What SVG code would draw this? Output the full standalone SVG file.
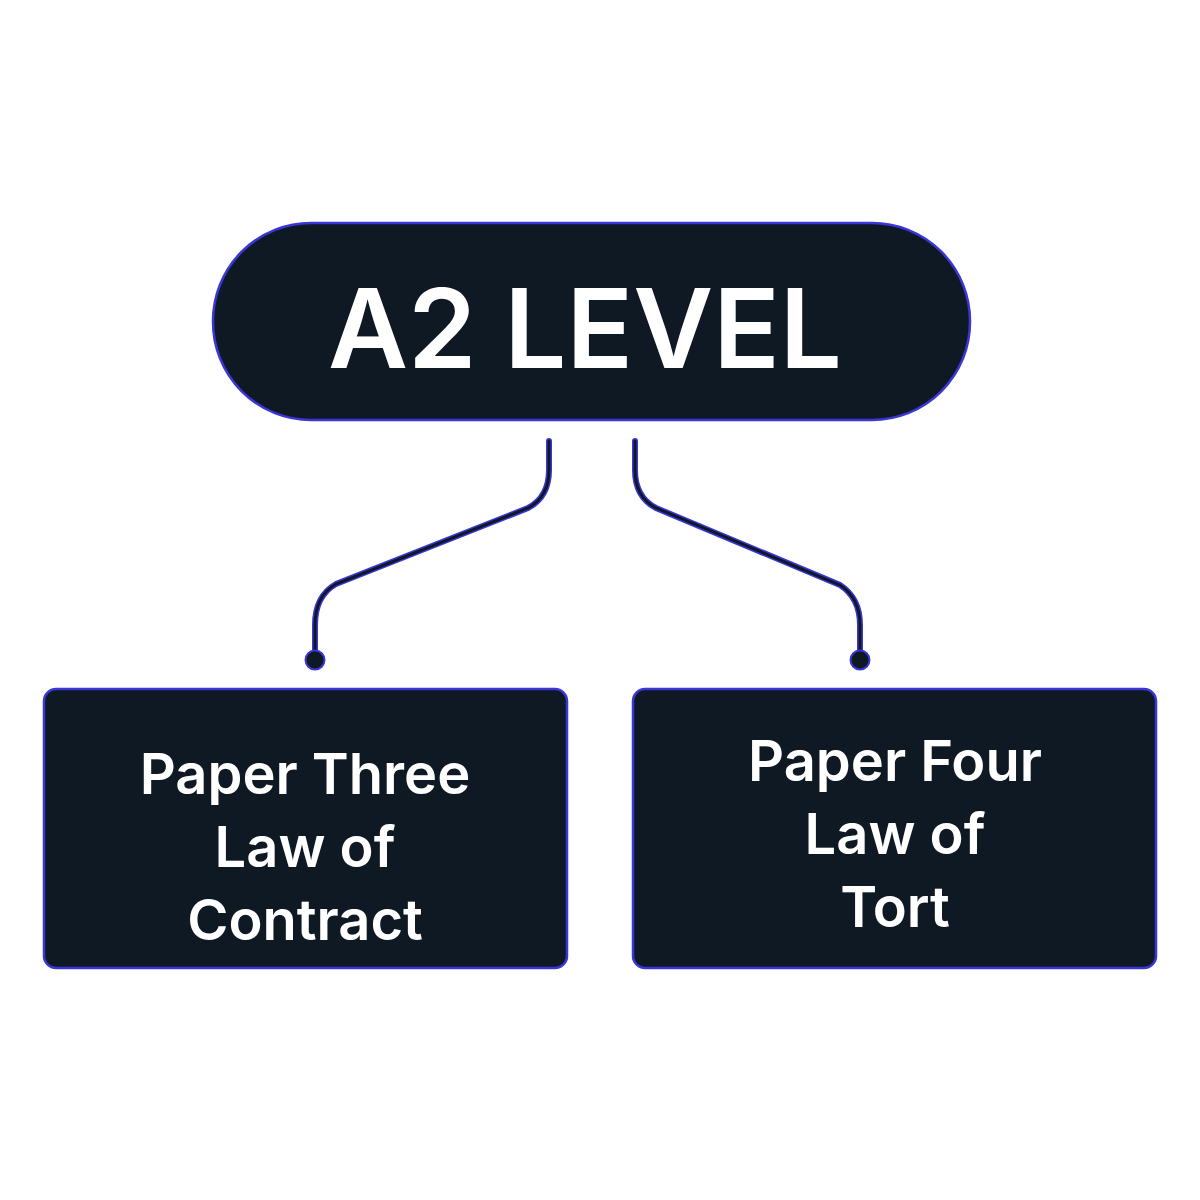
<svg xmlns="http://www.w3.org/2000/svg" width="1200" height="1200" viewBox="0 0 1200 1200">
<style>
.node{fill:#0f1923;stroke:#3a36d8;stroke-width:2.5}
.t{fill:#ffffff;font-family:Inter,"Open Sans",sans-serif;font-weight:600;text-anchor:middle}
.o{fill:none;stroke:#3a36d8;stroke-width:6;stroke-linecap:round}
.i{fill:none;stroke:#0f1923;stroke-width:3;stroke-linecap:round}
.dot{fill:#0f1923;stroke:#3a36d8;stroke-width:2}
</style>
<rect width="1200" height="1200" fill="#ffffff"/>
<g id="connectors">
<path class="o" d="M549,441 V470 Q549,497 528,508 L336,584 Q315,596 315,625 V658"/>
<path class="i" d="M549,441 V470 Q549,497 528,508 L336,584 Q315,596 315,625 V658"/>
<circle class="dot" cx="315" cy="660" r="9.5"/>
<path class="o" d="M635,441 V470 Q635,497 656,508 L840,585 Q860,598 860,625 V658"/>
<path class="i" d="M635,441 V470 Q635,497 656,508 L840,585 Q860,598 860,625 V658"/>
<circle class="dot" cx="860" cy="660" r="9.5"/>
</g>
<g id="a2">
<rect class="node" x="213" y="223" width="757" height="197" rx="98"/>
<text class="t" x="585" y="368" font-size="110">A2 LEVEL</text>
</g>
<g id="paper3">
<rect class="node" x="44" y="689" width="523" height="279" rx="12"/>
<text class="t" font-size="56"><tspan x="305" y="794">Paper Three</tspan><tspan x="305" y="867">Law of</tspan><tspan x="305" y="940">Contract</tspan></text>
</g>
<g id="paper4">
<rect class="node" x="633" y="689" width="523" height="279" rx="12"/>
<text class="t" font-size="56"><tspan x="895" y="781">Paper Four</tspan><tspan x="895" y="854">Law of</tspan><tspan x="895" y="927">Tort</tspan></text>
</g>
</svg>
